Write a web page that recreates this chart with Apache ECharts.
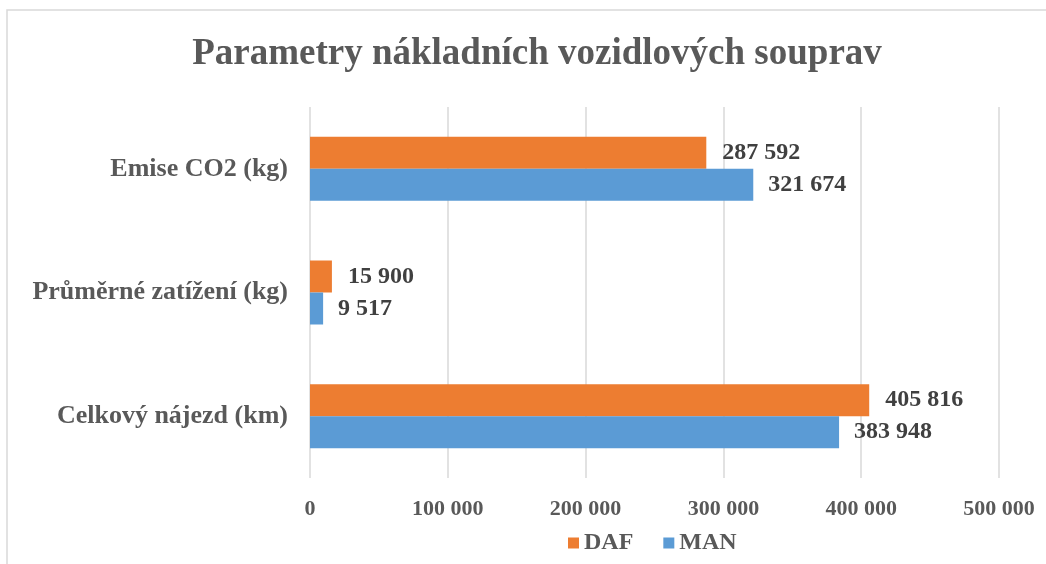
<!DOCTYPE html>
<html>
<head>
<meta charset="utf-8">
<script src="https://cdn.jsdelivr.net/npm/echarts@6/dist/echarts.min.js"></script>
<style>
  html, body { margin: 0; padding: 0; background: #fff; }
  #chart { width: 1046px; height: 564px; }
</style>
</head>
<body>
<div id="chart"></div>
<script>
// categories bottom -> top (ECharts draws first category at the bottom)
const categories = ['Celkový nájezd (km)', 'Průměrné zatížení (kg)', 'Emise CO2 (kg)']
const dafValues = [405816, 15900, 287592]
const manValues = [383948, 9517, 321674]
const xTicks = [0, 100000, 200000, 300000, 400000, 500000]

const fmt = v => String(v).replace(/\B(?=(\d{3})+(?!\d))/g, ' ')
const serif = '"Liberation Serif", "Times New Roman", serif'

const chart = echarts.init(document.getElementById('chart'))

const option = {
  animation: false,
  textStyle: { fontFamily: serif },
  graphic: [
    {
      type: 'rect',
      shape: { x: 7, y: 10, width: 1100, height: 600 },
      style: { fill: 'none', stroke: '#d9d9d9', lineWidth: 1.5 },
      silent: true
    }
  ],
  title: {
    text: 'Parametry nákladních vozidlových souprav',
    left: 532,
    textAlign: 'center',
    top: 31,
    textStyle: { fontFamily: serif, fontSize: 37, fontWeight: 'bold', color: '#595959' }
  },
  legend: {
    data: ['DAF', 'MAN'],
    bottom: 4,
    left: 563,
    itemWidth: 11,
    itemHeight: 11,
    itemGap: 30,
    icon: 'rect',
    textStyle: { fontFamily: serif, fontSize: 24, fontWeight: 'bold', color: '#595959' }
  },
  grid: { left: 310, right: 47, top: 107, bottom: 86 },
  xAxis: {
    type: 'value',
    min: xTicks[0],
    max: xTicks[xTicks.length - 1],
    interval: 100000,
    axisLine: { show: false },
    axisTick: { show: false },
    splitLine: { lineStyle: { color: '#d9d9d9', width: 1.5 } },
    axisLabel: {
      margin: 20,
      formatter: v => fmt(v),
      fontFamily: serif, fontSize: 22, fontWeight: 'bold', color: '#595959'
    }
  },
  yAxis: {
    type: 'category',
    data: categories,
    axisLine: { show: false },
    axisTick: { show: false },
    axisLabel: {
      margin: 22,
      fontFamily: serif, fontSize: 26, fontWeight: 'bold', color: '#595959'
    }
  },
  series: [
    {
      name: 'DAF',
      type: 'bar',
      data: dafValues,
      barWidth: 32,
      barGap: '0%',
      itemStyle: { color: '#ed7d31' },
      label: {
        show: true,
        position: 'right',
        distance: 16,
        formatter: p => fmt(p.value),
        fontFamily: serif, fontSize: 24, fontWeight: 'bold', color: '#404040'
      }
    },
    {
      name: 'MAN',
      type: 'bar',
      data: manValues,
      barWidth: 32,
      barGap: '0%',
      itemStyle: { color: '#5b9bd5' },
      label: {
        show: true,
        position: 'right',
        distance: 15,
        formatter: p => fmt(p.value),
        fontFamily: serif, fontSize: 24, fontWeight: 'bold', color: '#404040'
      }
    }
  ]
}

chart.setOption(option)
</script>
</body>
</html>
